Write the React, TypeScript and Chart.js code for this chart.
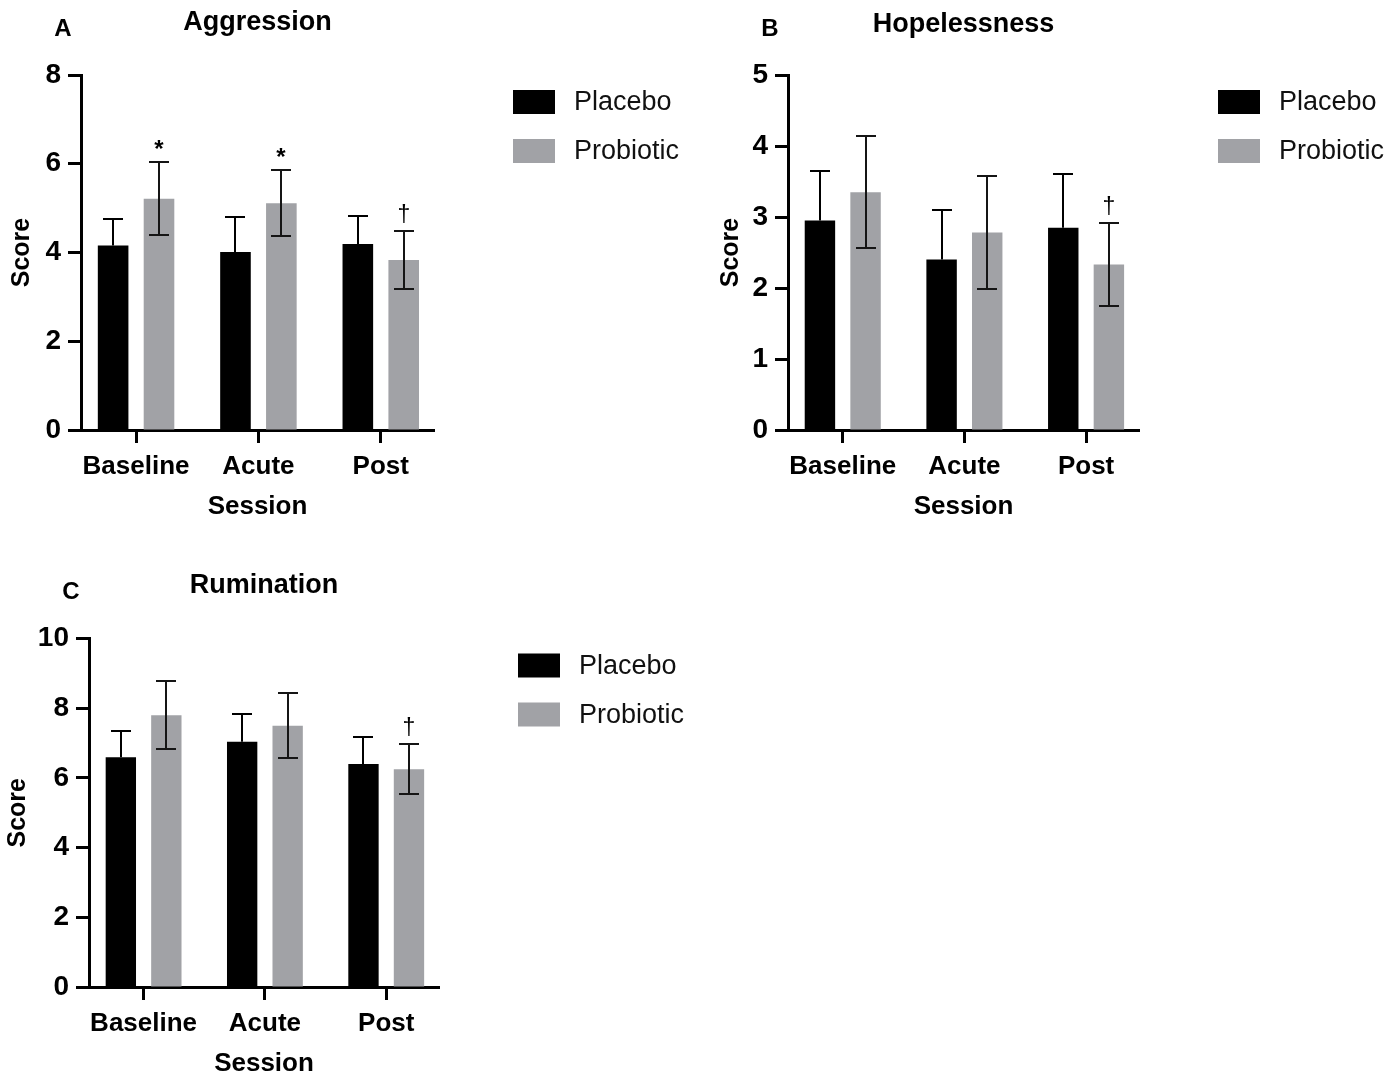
import React, { useEffect, useRef } from 'react';
import { Chart, registerables } from 'chart.js';

Chart.register(...registerables);

// ---- data ----
const sessions = ['Baseline', 'Acute', 'Post'];
const seriesNames = ['Placebo', 'Probiotic'];
const seriesColors = ['#000000', '#a1a2a6'];

const aggressionPlacebo = [4.16, 4.01, 4.19];
const aggressionPlaceboErr = [0.6, 0.8, 0.64];
const aggressionProbiotic = [5.21, 5.11, 3.83];
const aggressionProbioticErr = [0.82, 0.74, 0.65];
const aggressionMarks = ['*', '*', '†'];

const hopelessnessPlacebo = [2.95, 2.4, 2.85];
const hopelessnessPlaceboErr = [0.7, 0.7, 0.75];
const hopelessnessProbiotic = [3.35, 2.78, 2.33];
const hopelessnessProbioticErr = [0.79, 0.8, 0.59];
const hopelessnessMarks = ['', '', '†'];

const ruminationPlacebo = [6.59, 7.04, 6.4];
const ruminationPlaceboErr = [0.76, 0.78, 0.76];
const ruminationProbiotic = [7.8, 7.5, 6.25];
const ruminationProbioticErr = [0.97, 0.93, 0.72];
const ruminationMarks = ['', '', '†'];

const FONT = "'Liberation Sans', Arial, Helvetica, sans-serif";

type Panel = {
  letter: string;
  title: string;
  placebo: number[];
  placeboErr: number[];
  probiotic: number[];
  probioticErr: number[];
  marks: string[];
  yMax: number;
  yStep: number;
  left: number;
  top: number;
  width: number;
  height: number;
  areaLeft: number;
  areaTop: number;
  areaRight: number;
  areaBottom: number;
  yTitlePad: number;
  titleOffset: number;
};

const panels: Panel[] = [
  {
    letter: 'A', title: 'Aggression',
    placebo: aggressionPlacebo, placeboErr: aggressionPlaceboErr,
    probiotic: aggressionProbiotic, probioticErr: aggressionProbioticErr,
    marks: aggressionMarks, yMax: 8, yStep: 2,
    left: 0, top: 0, width: 700, height: 540,
    areaLeft: 81, areaTop: 75, areaRight: 434, areaBottom: 430, yTitlePad: 7, titleOffset: 52,
  },
  {
    letter: 'B', title: 'Hopelessness',
    placebo: hopelessnessPlacebo, placeboErr: hopelessnessPlaceboErr,
    probiotic: hopelessnessProbiotic, probioticErr: hopelessnessProbioticErr,
    marks: hopelessnessMarks, yMax: 5, yStep: 1,
    left: 700, top: 0, width: 698, height: 540,
    areaLeft: 88, areaTop: 75, areaRight: 439, areaBottom: 430, yTitlePad: 16, titleOffset: 50,
  },
  {
    letter: 'C', title: 'Rumination',
    placebo: ruminationPlacebo, placeboErr: ruminationPlaceboErr,
    probiotic: ruminationProbiotic, probioticErr: ruminationProbioticErr,
    marks: ruminationMarks, yMax: 10, yStep: 2,
    left: 0, top: 563, width: 700, height: 534,
    areaLeft: 89, areaTop: 75.5, areaRight: 439, areaBottom: 424, yTitlePad: 3, titleOffset: 53,
  },
];

const overlayPlugin = {
  id: 'overlay',
  afterDatasetsDraw(chart: any, _args: any, opts: any) {
    const p: Panel = opts.panel;
    const { ctx, scales } = chart;
    const vals = [p.placebo, p.probiotic];
    const errs = [p.placeboErr, p.probioticErr];
    ctx.save();
    ctx.lineWidth = 2;
    for (let i = 0; i < 2; i++) {
      const meta = chart.getDatasetMeta(i);
      ctx.strokeStyle = i === 0 ? '#000000' : '#151515';
      meta.data.forEach((bar: any, j: number) => {
        const x = Math.round(bar.x);
        const yT = Math.round(scales.y.getPixelForValue(vals[i][j] + errs[i][j]));
        // lower half of the placebo bar is hidden inside the black bar
        const yB = i === 0
          ? scales.y.getPixelForValue(vals[i][j])
          : Math.round(scales.y.getPixelForValue(vals[i][j] - errs[i][j]));
        ctx.beginPath();
        ctx.moveTo(x, yT);
        ctx.lineTo(x, yB);
        ctx.moveTo(x - 10, yT);
        ctx.lineTo(x + 10, yT);
        if (i === 1) {
          ctx.moveTo(x - 10, yB);
          ctx.lineTo(x + 10, yB);
        }
        ctx.stroke();
        if (i === 1 && p.marks[j]) {
          const t = p.marks[j];
          ctx.font = t === '*' ? `bold 24px ${FONT}` : `23px ${FONT}`;
          ctx.fillStyle = '#000';
          ctx.textAlign = 'center';
          ctx.textBaseline = 'alphabetic';
          const m = ctx.measureText(t);
          const cy = yT - 18;
          ctx.fillText(t, x, cy + (m.actualBoundingBoxAscent - m.actualBoundingBoxDescent) / 2);
        }
      });
    }
    ctx.restore();
  },
  afterDraw(chart: any, _args: any, opts: any) {
    const p: Panel = opts.panel;
    const { ctx, chartArea } = chart;
    ctx.save();
    // title
    ctx.fillStyle = '#000';
    ctx.font = `bold 27px ${FONT}`;
    ctx.textAlign = 'center';
    ctx.textBaseline = 'middle';
    ctx.fillText(p.title, (chartArea.left + chartArea.right) / 2, chartArea.top - p.titleOffset);
    // panel letter
    ctx.font = `bold 24px ${FONT}`;
    ctx.fillText(p.letter, chartArea.left - 18, chartArea.top - 46);
    // legend
    ctx.textAlign = 'left';
    ctx.font = `27px ${FONT}`;
    for (let i = 0; i < 2; i++) {
      const cy = chartArea.top + 27 + i * 49;
      ctx.fillStyle = seriesColors[i];
      ctx.fillRect(chartArea.right + 79, cy - 12, 42, 24);
      ctx.fillStyle = '#111';
      ctx.fillText(seriesNames[i], chartArea.right + 140, cy + 1);
    }
    ctx.restore();
  },
};

function buildConfig(p: Panel): any {
  const axisBlack = '#000000';
  return {
    type: 'bar',
    data: {
      datasets: [
        {
          label: seriesNames[0],
          data: p.placebo.map((v, i) => ({ x: i, y: v })),
          backgroundColor: seriesColors[0],
          borderWidth: 0,
          categoryPercentage: 0.75,
          barPercentage: 0.667,
        },
        {
          label: seriesNames[1],
          data: p.probiotic.map((v, i) => ({ x: i, y: v })),
          backgroundColor: seriesColors[1],
          borderWidth: 0,
          categoryPercentage: 0.75,
          barPercentage: 0.667,
        },
      ],
    },
    options: {
      responsive: false,
      animation: false,
      devicePixelRatio: 1,
      layout: {
        padding: { left: 0, top: p.areaTop, right: p.width - p.areaRight, bottom: 0 },
      },
      plugins: {
        legend: { display: false },
        tooltip: { enabled: false },
        title: { display: false },
        overlay: { panel: p },
      },
      scales: {
        x: {
          type: 'linear',
          min: -0.45,
          max: 2.435,
          offset: false,
          z: 1,
          afterBuildTicks: (scale: any) => {
            scale.ticks = sessions.map((_, i) => ({ value: i }));
          },
          afterFit: (scale: any) => {
            scale.height = p.height - p.areaBottom;
          },
          ticks: {
            callback: (v: number) => sessions[Math.round(v)],
            color: '#000',
            font: { family: FONT, size: 26, weight: 'bold' },
            padding: 8,
            maxRotation: 0,
            autoSkip: false,
          },
          grid: {
            offset: false,
            drawOnChartArea: false,
            drawTicks: true,
            tickLength: 13,
            tickWidth: 3,
            color: axisBlack,
          },
          border: { display: true, color: axisBlack, width: 3 },
          title: {
            display: true,
            text: 'Session',
            color: '#000',
            font: { family: FONT, size: 26, weight: 'bold' },
            padding: { top: 0, bottom: 18 },
          },
        },
        y: {
          type: 'linear',
          min: 0,
          max: p.yMax,
          z: 1,
          afterFit: (scale: any) => {
            scale.width = p.areaLeft;
          },
          ticks: {
            stepSize: p.yStep,
            color: '#000',
            font: { family: FONT, size: 28, weight: 'bold' },
            padding: 7,
          },
          grid: {
            drawOnChartArea: false,
            drawTicks: true,
            tickLength: 13,
            tickWidth: 3,
            color: axisBlack,
          },
          border: { display: true, color: axisBlack, width: 3 },
          title: {
            display: true,
            text: 'Score',
            color: '#000',
            font: { family: FONT, size: 25, weight: 'bold' },
            padding: { top: p.yTitlePad, bottom: 0 },
          },
        },
      },
    },
    plugins: [overlayPlugin],
  };
}

function PanelChart({ p }: { p: Panel }) {
  const ref = useRef<HTMLCanvasElement>(null);
  useEffect(() => {
    const chart = new Chart(ref.current as HTMLCanvasElement, buildConfig(p));
    return () => chart.destroy();
  }, []);
  return (
    <canvas
      ref={ref}
      width={p.width}
      height={p.height}
      style={{ position: 'absolute', left: p.left, top: p.top, width: p.width, height: p.height }}
    />
  );
}

export default function App() {
  return (
    <div
      style={{
        position: 'absolute',
        left: 0,
        top: 0,
        width: 1398,
        height: 1077,
        overflow: 'hidden',
        background: '#ffffff',
      }}
    >
      {panels.map((p) => (
        <PanelChart key={p.letter} p={p} />
      ))}
    </div>
  );
}
